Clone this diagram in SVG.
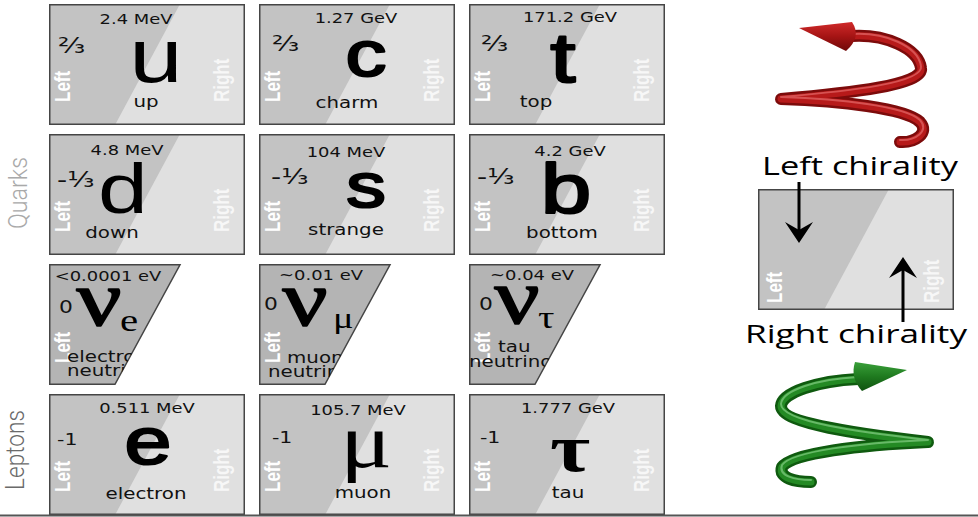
<svg xmlns="http://www.w3.org/2000/svg" xmlns:xlink="http://www.w3.org/1999/xlink" width="978" height="517" viewBox="0 0 978 517">
  <style>
    .m{font-family:"DejaVu Sans",Verdana,sans-serif;font-size:14px;fill:#111;text-anchor:middle}
    .nm{font-family:"DejaVu Sans",Verdana,sans-serif;font-size:15.5px;fill:#111;text-anchor:middle}
    .nl{font-family:"DejaVu Sans",Verdana,sans-serif;font-size:15.5px;fill:#111}
    .q{font-family:"DejaVu Sans",Verdana,sans-serif;font-size:22px;fill:#111}
    .q1{font-family:"DejaVu Sans",Verdana,sans-serif;font-size:16px;fill:#111}
    .z{font-family:"DejaVu Sans",Verdana,sans-serif;font-size:17px;fill:#111}
    .big{font-family:"Liberation Sans",Arial,sans-serif;fill:#000;text-anchor:middle}
    .heavy{stroke:#000;stroke-width:2.2;stroke-linejoin:round}
    .gr{font-family:"Liberation Serif","Times New Roman",serif;fill:#000}
    .w{transform-box:fill-box;transform-origin:center;transform:scaleX(1.28)}
    .wl{transform-box:fill-box;transform-origin:left center;transform:scaleX(1.28)}
    .lr{font-family:"Liberation Sans",Arial,sans-serif;font-weight:bold;font-size:17px;fill:#fff}
    .lr2{font-family:"Liberation Sans",Arial,sans-serif;font-weight:bold;font-size:17px;fill:#f7f7f7}
    .side{font-family:Roboto,"Liberation Sans",sans-serif;font-weight:300;font-size:23px}
    .ch{font-family:"Open Sans","Liberation Sans",sans-serif;font-size:25px;fill:#000}
    .tube-o{fill:none;stroke-width:12;stroke-linecap:round;stroke-linejoin:round}
    .tube-m{fill:none;stroke-width:7;stroke-linecap:round;stroke-linejoin:round}
    .tube-h{fill:none;stroke-width:2;stroke-linecap:round;stroke-linejoin:round;opacity:.55}
  </style>
  <defs>
    <!-- quark / lepton tile: left-handed half darker -->
    <g id="tile">
      <rect width="196" height="121" fill="#e0e0e0"/>
      <polygon points="0,0 131,0 66,121 0,121" fill="#c3c3c3"/>
      <rect x="0.75" y="0.75" width="194.5" height="119.5" fill="none" stroke="#454545" stroke-width="1.5"/>
    </g>
    <g id="hands">
      <text class="lr" transform="translate(21,98) rotate(-90) scale(1,1.28)">Left</text>
      <text class="lr2" transform="translate(180,98) rotate(-90) scale(1,1.28)">Right</text>
    </g>
    <!-- neutrino tile: only the left-handed part exists -->
    <g id="ntile">
      <polygon points="0.75,0.75 131,0.75 66,120.25 0.75,120.25" fill="#b4b4b4" stroke="#454545" stroke-width="1.5"/>
    </g>
    <clipPath id="nclip" clipPathUnits="userSpaceOnUse">
      <polygon points="0,0 131,0 66,121 0,121"/>
    </clipPath>
    <marker id="ah" viewBox="-10 -15 26 30" refX="0" refY="0" markerWidth="26" markerHeight="30" markerUnits="userSpaceOnUse" orient="auto">
      <path d="M13,0 L-8,-14 L0,0 L-8,14 Z" fill="#000"/>
    </marker>
    <linearGradient id="redCone" x1="0" y1="0" x2="0" y2="1">
      <stop offset="0" stop-color="#d02a2a"/>
      <stop offset="0.5" stop-color="#a51414"/>
      <stop offset="1" stop-color="#6e0808"/>
    </linearGradient>
    <linearGradient id="greenCone" x1="0" y1="0" x2="0" y2="1">
      <stop offset="0" stop-color="#3aa03a"/>
      <stop offset="0.5" stop-color="#1f7a1f"/>
      <stop offset="1" stop-color="#0f520f"/>
    </linearGradient>
    <path id="redHelix" d="M852,36 C885,34 918,48 921,68 C924,85 850,93 781,99 C840,101 905,108 920,122 C930,133 915,143 900,142"/>
    <path id="greenHelix" d="M858,379 C818,381 782,392 781,406 C781,424 860,434 928,442 C860,445 792,453 782,467 C778,478 795,482 811,482"/>
  </defs>

  <rect width="978" height="517" fill="#fff"/>

  <!-- family labels -->
  <text class="side" fill="#a9a9a9" transform="translate(27,229) rotate(-90) scale(1,1.1)" textLength="72" lengthAdjust="spacingAndGlyphs">Quarks</text>
  <text class="side" fill="#6a6a6a" transform="translate(24,490) rotate(-90) scale(1,1.1)" textLength="80" lengthAdjust="spacingAndGlyphs">Leptons</text>

  <!-- row 1: up-type quarks -->
  <g id="up" transform="translate(49,4)">
    <use href="#tile"/><use href="#hands"/>
    <text class="m w" x="87" y="20">2.4 MeV</text>
    <text class="q wl" x="9" y="49">⅔</text>
    <text class="big w" x="107" y="78" font-size="75">u</text>
    <text class="nm w" x="97" y="103">up</text>
  </g>
  <g id="charm" transform="translate(259,4)">
    <use href="#tile"/><use href="#hands"/>
    <text class="m w" x="97" y="19">1.27 GeV</text>
    <text class="q wl" x="13" y="47">⅔</text>
    <text class="big heavy w" x="107" y="72" font-size="64">c</text>
    <text class="nm w" x="88" y="104">charm</text>
  </g>
  <g id="top" transform="translate(469,4)">
    <use href="#tile"/><use href="#hands"/>
    <text class="m w" x="101" y="18">171.2 GeV</text>
    <text class="q wl" x="12" y="47">⅔</text>
    <text class="big heavy w" x="94" y="78" font-size="71">t</text>
    <text class="nm w" x="67" y="103">top</text>
  </g>

  <!-- row 2: down-type quarks -->
  <g id="down" transform="translate(49,134)">
    <use href="#tile"/><use href="#hands"/>
    <text class="m w" x="78" y="21">4.8 MeV</text>
    <text class="q wl" x="8" y="53">-⅓</text>
    <text class="big w" x="74" y="79" font-size="70">d</text>
    <text class="nm w" x="63" y="104">down</text>
  </g>
  <g id="strange" transform="translate(259,134)">
    <use href="#tile"/><use href="#hands"/>
    <text class="m w" x="87" y="23">104 MeV</text>
    <text class="q wl" x="12" y="50">-⅓</text>
    <text class="big heavy w" x="107" y="73" font-size="62">s</text>
    <text class="nm w" x="87" y="101">strange</text>
  </g>
  <g id="bottom" transform="translate(469,134)">
    <use href="#tile"/><use href="#hands"/>
    <text class="m w" x="101" y="22">4.2 GeV</text>
    <text class="q wl" x="8" y="50">-⅓</text>
    <text class="big heavy w" x="97" y="79" font-size="71">b</text>
    <text class="nm w" x="93" y="104">bottom</text>
  </g>

  <!-- row 3: neutrinos (left-handed only) -->
  <g id="electron-neutrino" transform="translate(49,264)">
    <use href="#ntile"/>
    <g clip-path="url(#nclip)">
      <text class="lr" transform="translate(21,99) rotate(-90) scale(1,1.28)">Left</text>
      <text class="m w" x="59" y="17">&lt;0.0001 eV</text>
      <text class="z wl" x="10" y="49">0</text>
      <text class="gr heavy w" x="50" y="61" font-size="78" text-anchor="middle" style="stroke-width:1.6">ν</text>
      <text class="gr wl" x="71" y="67" font-size="32">e</text>
      <text class="nl wl" x="18" y="98">electron</text>
      <text class="nl wl" x="18" y="112">neutrino</text>
    </g>
  </g>
  <g id="muon-neutrino" transform="translate(259,264)">
    <use href="#ntile"/>
    <g clip-path="url(#nclip)">
      <text class="lr" transform="translate(21,99) rotate(-90) scale(1,1.28)">Left</text>
      <text class="m w" x="62" y="16">~0.01 eV</text>
      <text class="z wl" x="5" y="46">0</text>
      <text class="gr heavy w" x="46" y="61" font-size="78" text-anchor="middle" style="stroke-width:1.6">ν</text>
      <text class="gr wl" x="74" y="64" font-size="30">μ</text>
      <text class="nl wl" x="28" y="99">muon</text>
      <text class="nl wl" x="9" y="113">neutrino</text>
    </g>
  </g>
  <g id="tau-neutrino" transform="translate(469,264)">
    <use href="#ntile"/>
    <g clip-path="url(#nclip)">
      <text class="lr" transform="translate(21,99) rotate(-90) scale(1,1.28)">Left</text>
      <text class="m w" x="63" y="16">~0.04 eV</text>
      <text class="z wl" x="10" y="46">0</text>
      <text class="gr heavy w" x="48" y="59" font-size="78" text-anchor="middle" style="stroke-width:1.6">ν</text>
      <text class="gr wl" x="69" y="64" font-size="32">τ</text>
      <text class="nl wl" x="29" y="88">tau</text>
      <text class="nl wl" x="0" y="103">neutrino</text>
    </g>
  </g>

  <!-- row 4: charged leptons -->
  <g id="electron" transform="translate(49,394)">
    <use href="#tile"/><use href="#hands"/>
    <text class="m w" x="98" y="19">0.511 MeV</text>
    <text class="q1 wl" x="8" y="51">-1</text>
    <text class="big heavy w" x="99" y="70" font-size="66">e</text>
    <text class="nm w" x="97" y="105">electron</text>
  </g>
  <g id="muon" transform="translate(259,394)">
    <use href="#tile"/><use href="#hands"/>
    <text class="m w" x="99" y="21">105.7 MeV</text>
    <text class="q1 wl" x="13" y="49">-1</text>
    <text class="gr w" x="107" y="73" font-size="76" text-anchor="middle">μ</text>
    <text class="nm w" x="104" y="104">muon</text>
  </g>
  <g id="tau" transform="translate(469,394)">
    <use href="#tile"/><use href="#hands"/>
    <text class="m w" x="99" y="19">1.777 GeV</text>
    <text class="q1 wl" x="11" y="49">-1</text>
    <text class="gr w" x="101" y="77" font-size="68" font-weight="bold" text-anchor="middle">τ</text>
    <text class="nm w" x="99" y="104">tau</text>
  </g>

  <!-- chirality key -->
  <g id="chirality-key">
    <use href="#tile" x="758" y="189"/>
    <text class="lr" transform="translate(782,303) rotate(-90) scale(1,1.28)">Left</text>
    <text class="lr2" transform="translate(939,303) rotate(-90) scale(1,1.28)">Right</text>
  </g>
  <g id="label-left-chirality">
    <text class="ch" x="762" y="175" textLength="196" lengthAdjust="spacingAndGlyphs">Left chirality</text>
  </g>
  <g id="label-right-chirality">
    <text class="ch" x="745" y="343" textLength="222" lengthAdjust="spacingAndGlyphs">Right chirality</text>
  </g>

  <!-- helices -->
  <g id="helix-red">
    <use href="#redHelix" class="tube-o" stroke="#7c0b0b"/>
    <use href="#redHelix" class="tube-m" stroke="#b71a1a"/>
    <use href="#redHelix" class="tube-h" stroke="#f08080" transform="translate(0,-2)"/>
    <path d="M799,28 L852,22 Q862,37 846,51 Z" fill="url(#redCone)"/>
  </g>
  <g id="helix-green">
    <use href="#greenHelix" class="tube-o" stroke="#0f5a0f"/>
    <use href="#greenHelix" class="tube-m" stroke="#248a24"/>
    <use href="#greenHelix" class="tube-h" stroke="#9ee09e" transform="translate(0,-2)"/>
    <path d="M907,370 L855,362 Q850,378 862,391 Z" fill="url(#greenCone)"/>
  </g>

  <!-- connectors -->
  <g id="connectors" stroke="#000" stroke-width="3" fill="none">
    <line x1="799" y1="182" x2="799" y2="230" marker-end="url(#ah)"/>
    <line x1="903" y1="322" x2="903" y2="270" marker-end="url(#ah)"/>
  </g>

  <line x1="0" y1="515.5" x2="978" y2="515.5" stroke="#555" stroke-width="2"/>
</svg>
